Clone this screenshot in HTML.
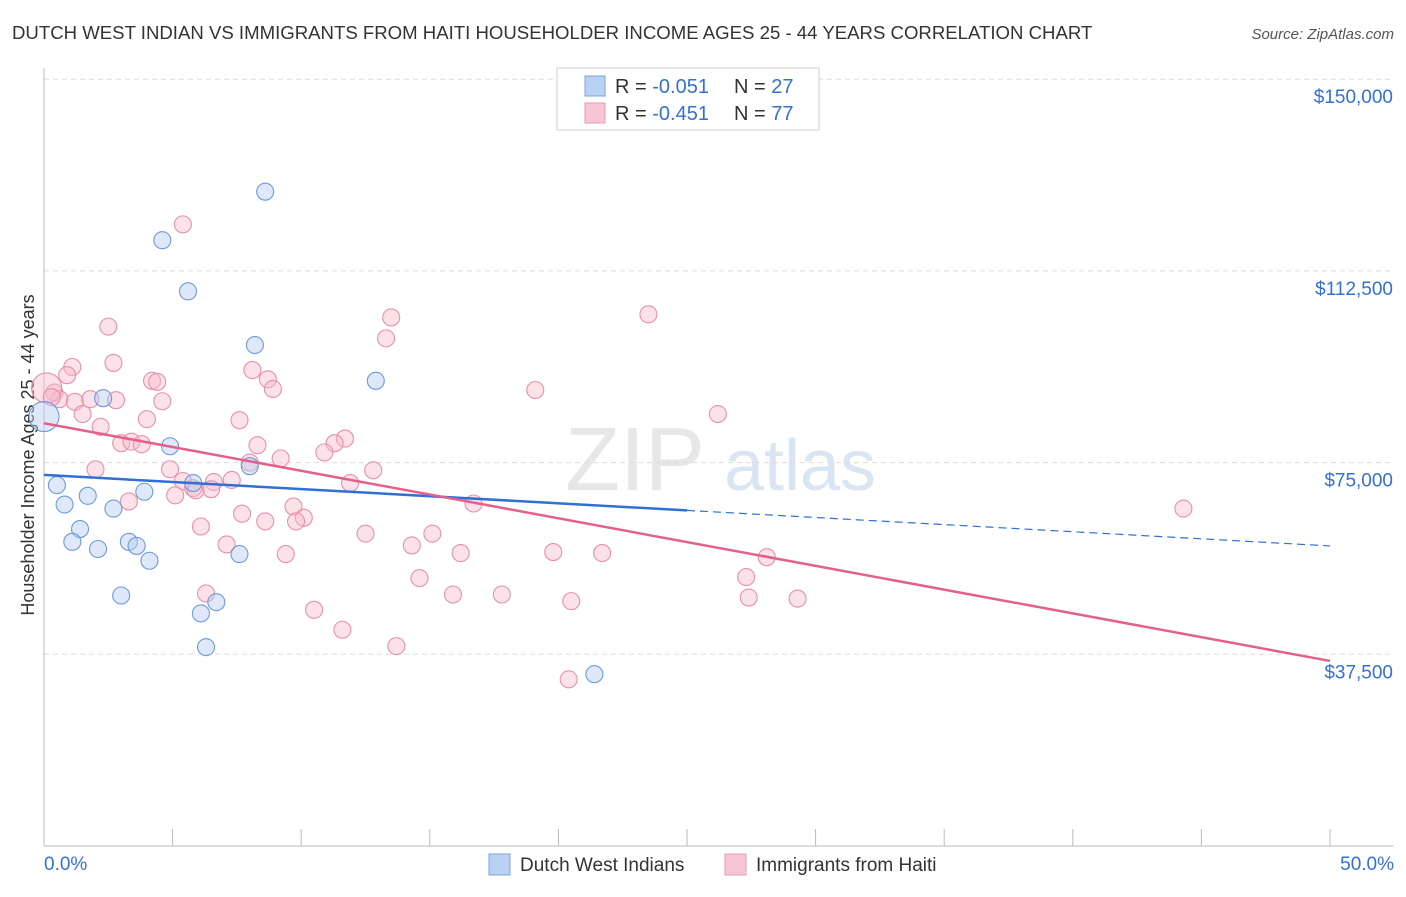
<!DOCTYPE html>
<html><head><meta charset="utf-8"><style>
body{margin:0;background:#fff;font-family:"Liberation Sans",sans-serif;}
svg text{font-family:"Liberation Sans",sans-serif;}
</style></head><body>
<svg id="c" width="1406" height="892">
<text x="12" y="39" font-size="18.6" fill="#333">DUTCH WEST INDIAN VS IMMIGRANTS FROM HAITI HOUSEHOLDER INCOME AGES 25 - 44 YEARS CORRELATION CHART</text>
<text x="1394" y="39" font-size="15" fill="#555" font-style="italic" text-anchor="end">Source: ZipAtlas.com</text>
<text x="34" y="455" font-size="18" fill="#333" text-anchor="middle" transform="rotate(-90 34 455)">Householder Income Ages 25 - 44 years</text>
<g><text x="635" y="490" font-size="90" fill="#ddd" font-family="Liberation Serif" text-anchor="middle" opacity="0.7">ZIP</text><text x="800" y="490" font-size="72" fill="#c9dbef" text-anchor="middle" opacity="0.7">atlas</text></g>
<g id="grid"></g><g id="marks"></g>
<g>
<rect x="557" y="68" width="262" height="62" fill="#fff" stroke="#ccc"/>
<rect x="585" y="76" width="20" height="20" fill="#b9d2f3" stroke="#7aa4df"/>
<rect x="585" y="103" width="20" height="20" fill="#f8c5d4" stroke="#ea9ab2"/>
<text x="615" y="93" font-size="20" fill="#333">R = <tspan fill="#3470d4">-0.051</tspan></text>
<text x="734" y="93" font-size="20" fill="#333">N = <tspan fill="#3470d4">27</tspan></text>
<text x="615" y="120" font-size="20" fill="#333">R = <tspan fill="#3470d4">-0.451</tspan></text>
<text x="734" y="120" font-size="20" fill="#333">N = <tspan fill="#3470d4">77</tspan></text>
</g>
<g>
<rect x="489" y="854" width="21" height="21" fill="#b9d2f3" stroke="#7aa4df"/>
<text x="520" y="871" font-size="19" fill="#333">Dutch West Indians</text>
<rect x="725" y="854" width="21" height="21" fill="#f8c5d4" stroke="#ea9ab2"/>
<text x="756" y="871" font-size="19" fill="#333">Immigrants from Haiti</text>
</g>
</svg>
<script>
const yTicks=[37500,75000,112500,150000];
const yTickLabels=["$37,500","$75,000","$112,500","$150,000"];
const xTickLabels=["0.0%","50.0%"];
const dutchX=[8.6,4.6,5.6,8.2,12.9,2.3,4.9,8.0,5.8,0.5,1.7,3.9,0.8,2.7,1.4,1.1,2.1,3.3,3.6,4.1,7.6,3.0,6.7,6.1,6.3,21.4,0.0];
const dutchY=[128000,118500,108500,98000,91000,87600,78200,74300,71000,70600,68500,69300,66800,66000,62000,59500,58100,59500,58700,55800,57100,49000,47700,45500,38900,33600,84000];
const haitiX=[5.4,2.5,13.5,23.5,13.3,2.7,1.1,0.9,8.1,4.2,4.4,8.7,8.9,19.1,0.4,0.6,1.2,1.8,2.8,4.6,26.2,1.5,4.0,7.6,2.2,11.7,11.3,3.0,3.4,3.8,8.3,10.9,9.2,8.0,2.0,4.9,12.8,5.4,7.3,6.6,11.9,5.8,5.9,6.5,5.1,3.3,16.7,9.7,44.3,7.7,10.1,9.8,8.6,6.1,12.5,15.1,7.1,14.3,9.4,16.2,19.8,21.7,28.1,14.6,27.3,15.9,17.8,27.4,29.3,20.5,6.3,10.5,11.6,13.7,20.4,0.1,0.3];
const haitiY=[121600,101600,103400,104000,99300,94500,93700,92100,93100,91000,90800,91300,89400,89200,88700,87400,86900,87400,87200,87000,84500,84500,83500,83300,82000,79700,78800,78800,79100,78600,78400,77000,75800,75000,73700,73700,73500,71400,71600,71200,71000,70000,69600,69800,68600,67400,67000,66400,66000,65000,64200,63500,63500,62500,61100,61100,59000,58800,57100,57300,57500,57300,56500,52400,52600,49200,49200,48600,48400,47900,49400,46200,42300,39100,32600,89600,87800];
const trendDutch=[72600,58700];const trendHaiti=[82700,36200];
const svg=document.getElementById('c'),NS='http://www.w3.org/2000/svg';
const X=p=>44+p/50*1286, Y=v=>846-v/37500*191.7;
function mk(t,a,p){const e=document.createElementNS(NS,t);for(const k in a)e.setAttribute(k,a[k]);(p||document.getElementById('marks')).appendChild(e);return e;}
const g=document.getElementById('grid');
yTicks.forEach((v,i)=>{
 const l=mk('line',{x1:44,x2:1394,y1:Y(v),y2:Y(v),stroke:'#ddd','stroke-dasharray':'5,4'},g);
 
 
 const t=mk('text',{x:1393,y:Y(v)+24,'font-size':19,fill:'#3470d4','text-anchor':'end'},g);t.textContent=yTickLabels[i];
 
 
});
const ax=mk('line',{x1:44,x2:44,y1:68,y2:846,stroke:'#bbb'},g);


const bx=mk('line',{x1:44,x2:1394,y1:846,y2:846,stroke:'#bbb'},g);


for(let i=0;i<=10;i++){const tk=mk('line',{x1:X(i*5),x2:X(i*5),y1:829,y2:846,stroke:'#bbb'},g);
 
 }
[[0,'start',44],[1,'end',1394]].forEach(([i,a,x])=>{const t=mk('text',{x:x,y:870,'font-size':19,fill:'#3470d4','text-anchor':a},g);t.textContent=xTickLabels[i];
 
 });
function dots(xs,ys,fill,stroke,name){xs.forEach((x,i)=>{const big=x<0.2;
 const c=mk('circle',{cx:X(x),cy:Y(ys[i]),r:big?15:8.5,fill:fill,'fill-opacity':0.45,stroke:stroke,'stroke-width':1.1});
 
 });}
dots(haitiX,haitiY,'#f6bccd','#e890aa','haiti-point');
dots(dutchX,dutchY,'#b5cdf0','#6d9ade','dutch-point');
const yd=p=>trendDutch[0]+(trendDutch[1]-trendDutch[0])*p/50;
let l1=mk('line',{x1:X(0),y1:Y(yd(0)),x2:X(25),y2:Y(yd(25)),stroke:'#2f6fd6','stroke-width':2.5});


let l2=mk('line',{x1:X(25),y1:Y(yd(25)),x2:X(50),y2:Y(yd(50)),stroke:'#2f6fd6','stroke-width':1.2,'stroke-dasharray':'8,5'});


let l3=mk('line',{x1:X(0),y1:Y(trendHaiti[0]),x2:X(50),y2:Y(trendHaiti[1]),stroke:'#e4608c','stroke-width':2.5});


</script>
</body></html>
